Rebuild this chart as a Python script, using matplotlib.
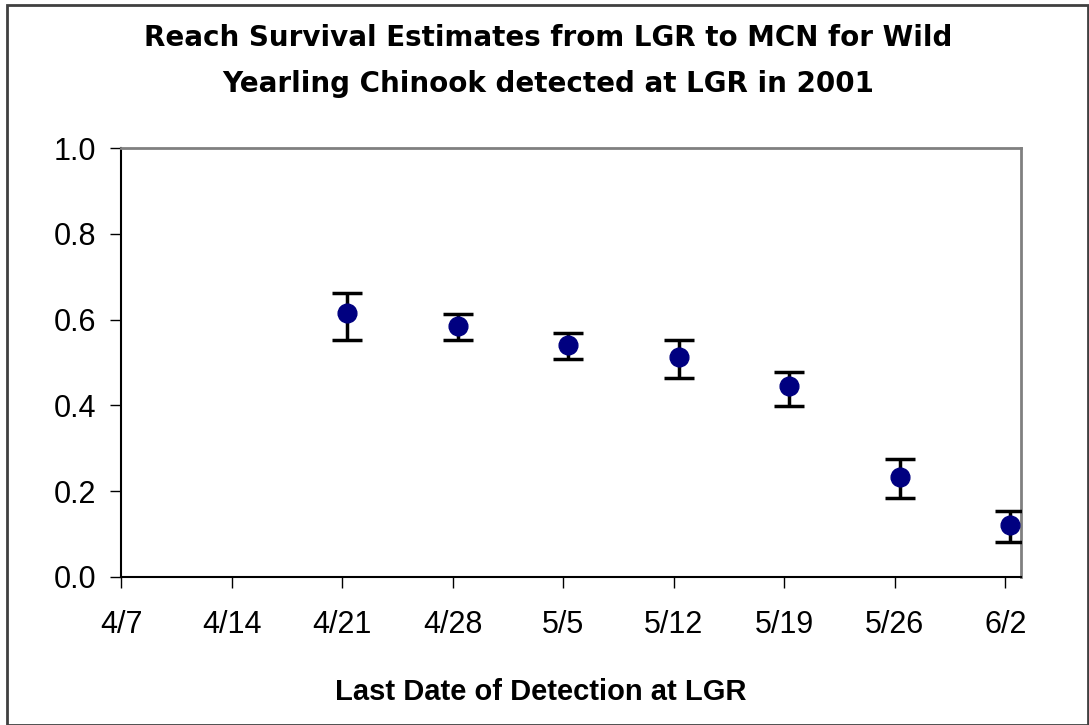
import numpy as np
import pandas as pd
import matplotlib.pyplot as plt
from matplotlib.patches import Rectangle

plt.rcParams['font.family'] = ['Liberation Sans', 'DejaVu Sans']

# last date of detection at LGR (2001) and reach survival estimates
dates = pd.to_datetime(["2001-04-21", "2001-04-28", "2001-05-05", "2001-05-12",
                        "2001-05-19", "2001-05-26", "2001-06-02"])
survival = np.array([0.615, 0.585, 0.541, 0.512, 0.446, 0.232, 0.121])
ci_low = np.array([0.552, 0.552, 0.508, 0.464, 0.398, 0.184, 0.082])
ci_high = np.array([0.663, 0.612, 0.568, 0.552, 0.479, 0.274, 0.155])

tick_dates = pd.date_range("2001-04-07", "2001-06-02", freq="7D")
tick_labels = [f"{d.month}/{d.day}" for d in tick_dates]

title_lines = ["Reach Survival Estimates from LGR to MCN for Wild",
               "Yearling Chinook detected at LGR in 2001"]
xlabel = "Last Date of Detection at LGR"

W, H = 1089, 725
fig = plt.figure(figsize=(W / 100, H / 100), dpi=100)
ax = fig.add_axes([121 / W, 1 - 577 / H, 900 / W, 429 / H])

x = dates + pd.Timedelta(hours=8)
yerr = np.vstack([survival - ci_low, ci_high - survival])
ax.errorbar(x, survival, yerr=yerr, fmt="o", color="#000080", markersize=13.5,
            ecolor="black", elinewidth=2.5, capsize=11, capthick=2.5, zorder=3)

ax.set_xlim(tick_dates[0], tick_dates[-1] + pd.Timedelta(days=1))
ax.set_ylim(0, 1.0)
ax.set_xticks(tick_dates)
ax.set_xticklabels(tick_labels)
ax.set_yticks(np.arange(0, 1.01, 0.2))
ax.yaxis.set_major_formatter(plt.FormatStrFormatter("%.1f"))

ax.tick_params(axis="both", direction="out", length=8, width=1, labelsize=22)
ax.tick_params(axis="x", pad=16)
ax.tick_params(axis="y", pad=10)

for side in ["left", "bottom"]:
    ax.spines[side].set_color("black")
    ax.spines[side].set_linewidth(1.5)
for side in ["top", "right"]:
    ax.spines[side].set_color("#808080")
    ax.spines[side].set_linewidth(2)

# x label centred on the figure, not the axes
fig.text(0.497, 1 - 700 / H, xlabel, ha="center", va="baseline",
         fontsize=21, fontweight="bold")

for line, base in zip(title_lines, [46, 92]):
    fig.text(0.503, 1 - base / H, line, ha="center", va="baseline",
             fontsize=20, fontweight="bold", family="DejaVu Sans")

fig.patches.append(Rectangle((7 / W, 0), 1 - 8 / W, 1 - 5 / H, transform=fig.transFigure,
                             fill=False, edgecolor="#404040", linewidth=2))

fig.savefig("out.png", dpi=100)
